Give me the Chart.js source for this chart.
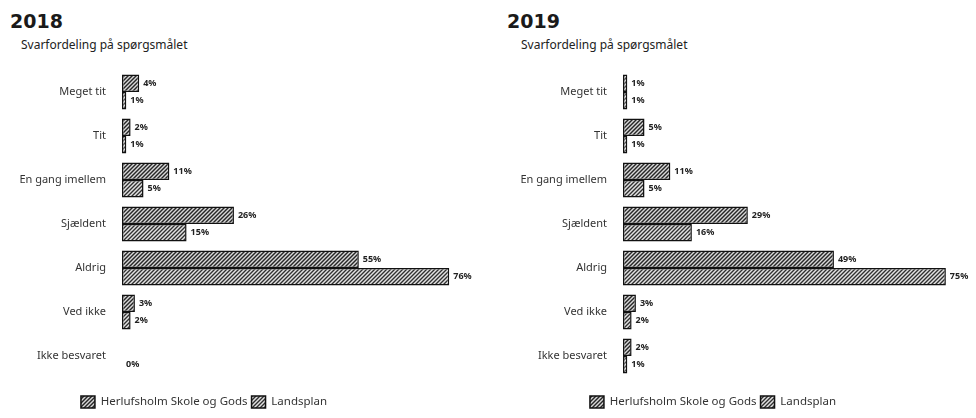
<!DOCTYPE html>
<html>
<head>
<meta charset="utf-8">
<script src="https://cdn.jsdelivr.net/npm/chart.js@4"></script>
<style>
  html, body { margin: 0; padding: 0; background: #fff; }
  body { width: 976px; height: 418px; position: relative; overflow: hidden; font-family: "Noto Sans", sans-serif; color: #222; }
  .panel { position: absolute; top: 0; width: 488px; height: 418px; }
  .year { position: absolute; font-family: "DejaVu Sans", sans-serif; font-weight: bold; font-size: 19px; line-height: 1; color: #1a1a1a; }
  .sub { position: absolute; font-size: 12px; line-height: 1; color: #222; }
  canvas { position: absolute; left: 0; top: 0; }
</style>
</head>
<body>
<div class="panel" style="left:0">
  <div class="year" style="left:10px;top:12px">2018</div>
  <div class="sub" style="left:21px;top:39px">Svarfordeling på spørgsmålet</div>
  <canvas id="chart2018" width="488" height="418"></canvas>
</div>
<div class="panel" style="left:488px">
  <div class="year" style="left:19px;top:12px">2019</div>
  <div class="sub" style="left:33px;top:39px">Svarfordeling på spørgsmålet</div>
  <canvas id="chart2019" width="488" height="418"></canvas>
</div>
<script>
// svarkategorier
const kategorier = ['Meget tit', 'Tit', 'En gang imellem', 'Sjældent', 'Aldrig', 'Ved ikke', 'Ikke besvaret'];
const serier = ['Herlufsholm Skole og Gods', 'Landsplan'];

// 2018 (procent)
const herlufsholm2018 = [4, 2, 11, 26, 55, 3, null];
const landsplan2018 = [1, 1, 5, 15, 76, 2, 0];

// 2019 (procent)
const herlufsholm2019 = [1, 5, 11, 29, 49, 3, 2];
const landsplan2019 = [1, 1, 5, 16, 75, 2, 1];

// graa rasterfyld som i det scannede dokument
function lavMoenster(bund, moerk, lys) {
    const c = document.createElement('canvas');
    c.width = 4;
    c.height = 4;
    const g = c.getContext('2d');
    g.fillStyle = bund;
    g.fillRect(0, 0, 4, 4);
    for (let i = 0; i < 4; i++) {
        g.fillStyle = moerk;
        g.fillRect(i, 3 - i, 1, 1);
        g.fillStyle = lys;
        g.fillRect(i, (5 - i) % 4, 1, 1);
    }
    return g.createPattern(c, 'repeat');
}

const fyldHerlufsholm = lavMoenster('#7e7e7e', '#262626', '#d8d8d8');
const fyldLandsplan = lavMoenster('#8e8e8e', '#303030', '#e2e2e2');

// procent-tekst ved enden af hver bjaelke
const procentTekst = {
    id: 'procentTekst',
    afterDatasetsDraw(chart) {
        const ctx = chart.ctx;
        ctx.save();
        ctx.font = 'bold 9px "Noto Sans", sans-serif';
        ctx.fillStyle = '#222';
        ctx.textBaseline = 'middle';
        ctx.textAlign = 'left';
        chart.data.datasets.forEach(function (ds, i) {
            const meta = chart.getDatasetMeta(i);
            meta.data.forEach(function (bar, j) {
                const v = ds.data[j];
                if (v === null) return;
                ctx.fillText(v + '%', bar.x + 4, bar.y);
            });
        });
        ctx.restore();
    }
};

// flyt forklaringen vandret
const flytForklaring = {
    id: 'flytForklaring',
    afterLayout(chart, args, opts) {
        const lg = chart.legend;
        if (!lg) return;
        lg.left += opts.dx;
        lg.right += opts.dx;
    }
};

function tegn(id, data1, data2, aksebredde, maks, dx) {
    const ctx = document.getElementById(id);
    return new Chart(ctx, {
        type: 'bar',
        data: {
            labels: kategorier,
            datasets: [{
                label: serier[0],
                data: data1,
                backgroundColor: fyldHerlufsholm,
                borderColor: '#111',
                borderWidth: 1.5,
                borderSkipped: false
            }, {
                label: serier[1],
                data: data2,
                backgroundColor: fyldLandsplan,
                borderColor: '#111',
                borderWidth: 1.5,
                borderSkipped: false
            }]
        },
        options: {
            responsive: false,
            animation: false,
            indexAxis: 'y',
            categoryPercentage: 0.8,
            barPercentage: 1.0,
            layout: { padding: { top: 70, left: 0, right: 0, bottom: 0 } },
            scales: {
                x: {
                    display: true,
                    min: 0,
                    max: maks,
                    grid: { display: false },
                    border: { display: false },
                    ticks: { display: false },
                    afterFit: function (s) { s.height = 14; }
                },
                y: {
                    grid: { display: false },
                    border: { display: false },
                    ticks: {
                        color: '#333',
                        padding: 8,
                        font: { family: '"Noto Sans", sans-serif', size: 11 }
                    },
                    afterFit: function (s) { s.width = aksebredde; }
                }
            },
            plugins: {
                legend: {
                    position: 'bottom',
                    labels: {
                        boxWidth: 14,
                        boxHeight: 12,
                        padding: 4,
                        color: '#333',
                        font: { family: '"Noto Sans", sans-serif', size: 11.5 }
                    }
                },
                tooltip: { enabled: false },
                flytForklaring: { dx: dx }
            }
        },
        plugins: [procentTekst, flytForklaring]
    });
}

tegn('chart2018', herlufsholm2018, landsplan2018, 122, 85, -40);
tegn('chart2019', herlufsholm2019, landsplan2019, 135, 82, -19);
</script>
</body>
</html>
